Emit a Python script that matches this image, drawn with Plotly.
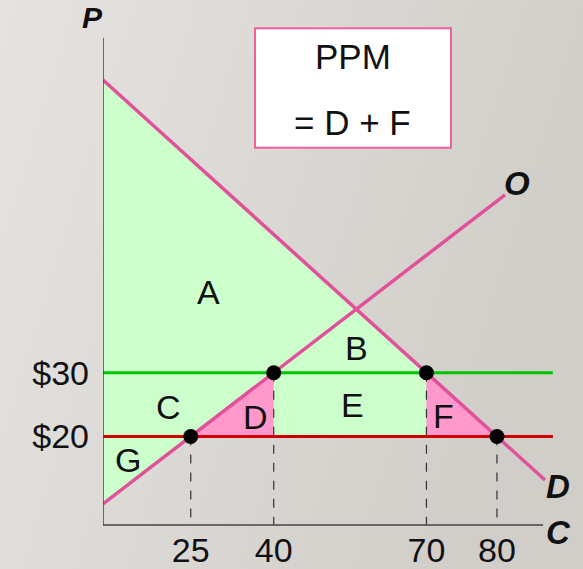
import base64
import numpy as np
import plotly.graph_objects as go

# ---- data ----
price_levels = [20, 30]                 # world price levels ($20 red, $30 green)
price_labels = ["$20", "$30"]
quantity_labels = ["25", "40", "70", "80"]   # supply@20, supply@30, demand@30, demand@20
demand_intercept, demand_slope = 82.66, -0.7715   # demand line D
supply_intercept, supply_slope = 3.66, 0.6556     # supply line O
region_names = ["A", "B", "C", "D", "E", "F", "G"]

# ---- derived geometry (through the line equations) ----
def demand(q):
    return demand_intercept + demand_slope * np.asarray(q, dtype=float)

def supply(q):
    return supply_intercept + supply_slope * np.asarray(q, dtype=float)

p_lo, p_hi = price_levels
qS20 = (p_lo - supply_intercept) / supply_slope
qS30 = (p_hi - supply_intercept) / supply_slope
qD30 = (p_hi - demand_intercept) / demand_slope
qD20 = (p_lo - demand_intercept) / demand_slope
tick_q = [qS20, qS30, qD30, qD20]
dot_p = [p_lo, p_hi, p_hi, p_lo]

X0, X1 = 8.79, 95.2
Y0, Y1 = 5.345, 83.71
x_axis_end = 89.7
y_axis_bottom, y_axis_top = 6.13, 82.5
d_end, s_end, line_end = 90.05, 82.7, 91.5

PINK_LINE = "#e0519a"
GREEN_FILL = "#ccffcc"
PINK_FILL = "#ff99cc"
FONT = "Liberation Sans, Arial, sans-serif"

fig = go.Figure()

# green area (A, B, C, E, G)
gx = [X0, qD30, qD30, qS20, X0, X0]
gy = [float(demand(X0)), p_hi, p_lo, p_lo, float(supply(X0)), float(demand(X0))]
fig.add_trace(go.Scatter(x=gx, y=gy, fill="toself", fillcolor=GREEN_FILL, mode="none",
                         hoverinfo="skip", showlegend=False))
# pink triangles D and F
fig.add_trace(go.Scatter(x=[qS20, qS30, qS30, qS20], y=[p_lo, p_hi, p_lo, p_lo], fill="toself",
                         fillcolor=PINK_FILL, mode="none", hoverinfo="skip", showlegend=False))
fig.add_trace(go.Scatter(x=[qD30, qD20, qD30, qD30], y=[p_hi, p_lo, p_lo, p_hi], fill="toself",
                         fillcolor=PINK_FILL, mode="none", hoverinfo="skip", showlegend=False))

# dashed drop lines
for q, p in zip(tick_q, dot_p):
    fig.add_trace(go.Scatter(x=[q, q], y=[p, y_axis_bottom], mode="lines",
                             line=dict(color="#333333", width=1.2, dash="dash"),
                             hoverinfo="skip", showlegend=False))

# price lines
fig.add_trace(go.Scatter(x=[X0, line_end], y=[p_hi, p_hi], mode="lines",
                         line=dict(color="#00c400", width=3), showlegend=False))
fig.add_trace(go.Scatter(x=[X0, line_end], y=[p_lo, p_lo], mode="lines",
                         line=dict(color="#d00000", width=3), showlegend=False))

# demand and supply lines
fig.add_trace(go.Scatter(x=[X0, d_end], y=demand([X0, d_end]), mode="lines",
                         line=dict(color=PINK_LINE, width=3.5), showlegend=False))
fig.add_trace(go.Scatter(x=[X0, s_end], y=supply([X0, s_end]), mode="lines",
                         line=dict(color=PINK_LINE, width=3.5), showlegend=False))

# dots
fig.add_trace(go.Scatter(x=tick_q, y=dot_p, mode="markers",
                         marker=dict(color="black", size=15), showlegend=False))

# axes lines + PPM box
shapes = [
    dict(type="line", x0=X0, x1=x_axis_end, y0=y_axis_bottom, y1=y_axis_bottom,
         line=dict(color="#444444", width=1.5)),
    dict(type="line", x0=X0, x1=X0, y0=y_axis_bottom, y1=y_axis_top,
         line=dict(color="#444444", width=1.5)),
    dict(type="rect", xref="paper", yref="paper", x0=0.3234, x1=0.7404, y0=0.7646, y1=1.0034,
         fillcolor="white", line=dict(color="#f0609a", width=2)),
]

txt = dict(family=FONT, size=34, color="#111111")
box_txt = dict(family=FONT, size=35, color="#111111")
bi = dict(family=FONT, size=33, color="#111111")
region_pos = [(28.1, 42.65), (55.43, 33.87), (20.92, 24.67), (36.88, 23.1),
              (54.57, 24.94), (71.48, 23.2), (13.4, 16.3)]
annotations = [dict(x=x, y=y, text=t, showarrow=False, font=txt)
               for t, (x, y) in zip(region_names, region_pos)]
annotations += [
    dict(x=54.66, y=79.48, text="PPM", showarrow=False, font=box_txt),
    dict(x=54.71, y=69.29, text="= D + F", showarrow=False, font=box_txt),
    dict(x=-0.0213, y=1.025, xref="paper", yref="paper", text="<b><i>P</i></b>",
         showarrow=False, font=dict(family=FONT, size=30, color="#111111")),
    dict(x=0.970, y=-0.004, xref="paper", yref="paper", text="<b><i>C</i></b>",
         showarrow=False, font=bi),
    dict(x=92.4, y=12.1, text="<b><i>D</i></b>", showarrow=False, font=bi),
    dict(x=84.9, y=59.7, text="<b><i>O</i></b>", showarrow=False, font=bi),
]
for a in annotations:
    a["xanchor"] = "center"
    a["yanchor"] = "middle"

svg = ('<svg xmlns="http://www.w3.org/2000/svg" width="583" height="569">'
       '<defs><linearGradient id="g" x1="0" y1="0" x2="1" y2="0.3">'
       '<stop offset="0" stop-color="#e5e3e0"/><stop offset="1" stop-color="#d1cec9"/>'
       '</linearGradient></defs><rect width="583" height="569" fill="url(#g)"/></svg>')
src = "data:image/svg+xml;base64," + base64.b64encode(svg.encode()).decode()

L, R, T, B = 103, 10, 30, 39
W, H = 583, 569
pw, ph = W - L - R, H - T - B

fig.update_layout(
    width=W, height=H,
    margin=dict(l=L, r=R, t=T, b=B, autoexpand=False),
    paper_bgcolor="#dcd9d5", plot_bgcolor="rgba(0,0,0,0)",
    shapes=shapes, annotations=annotations,
    images=[dict(source=src, xref="paper", yref="paper", x=-L / pw, y=1 + T / ph,
                 sizex=W / pw, sizey=H / ph, sizing="stretch", layer="below",
                 xanchor="left", yanchor="top")],
    xaxis=dict(range=[X0, X1], showgrid=False, zeroline=False, showline=False,
               automargin=False, fixedrange=True,
               tickvals=tick_q, ticktext=quantity_labels, ticks="",
               tickfont=dict(family=FONT, size=34, color="#111111"), ticklabelstandoff=-3),
    yaxis=dict(range=[Y0, Y1], showgrid=False, zeroline=False, showline=False,
               automargin=False, fixedrange=True,
               tickvals=price_levels, ticktext=price_labels, ticks="",
               tickfont=dict(family=FONT, size=34, color="#111111"), ticklabelstandoff=13),
    showlegend=False,
)

fig.write_html("out.html", config={"displayModeBar": False},
               post_script="document.body.style.margin='0px';document.body.style.overflow='hidden';")
